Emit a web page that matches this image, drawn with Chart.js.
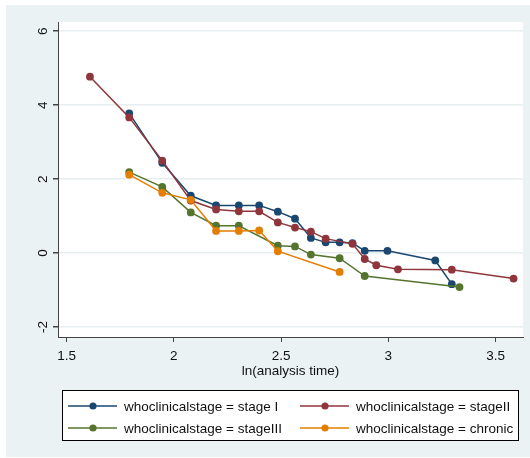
<!DOCTYPE html>
<html>
<head>
<meta charset="utf-8">
<script src="https://cdn.jsdelivr.net/npm/chart.js@4/dist/chart.umd.min.js"></script>
<style>
  html, body { margin: 0; padding: 0; background: #fff; }
  #wrap { width: 530px; height: 458px; }
</style>
</head>
<body>
<div id="wrap"><canvas id="chart" width="530" height="458"></canvas></div>
<script>
// ln(analysis time) and values, one pair of arrays per stage
const stage1X = [1.792, 1.946, 2.079, 2.197, 2.303, 2.398, 2.485, 2.565, 2.639, 2.708, 2.773, 2.833, 2.890, 2.996, 3.219, 3.296];
const stage1Y = [3.78, 2.44, 1.55, 1.29, 1.29, 1.29, 1.12, 0.93, 0.41, 0.29, 0.29, 0.27, 0.06, 0.06, -0.20, -0.84];

const stage2X = [1.609, 1.792, 1.946, 2.079, 2.197, 2.303, 2.398, 2.485, 2.565, 2.639, 2.708, 2.833, 2.890, 2.944, 3.045, 3.296, 3.584];
const stage2Y = [4.77, 3.67, 2.50, 1.42, 1.18, 1.13, 1.13, 0.83, 0.69, 0.58, 0.39, 0.25, -0.16, -0.33, -0.44, -0.45, -0.69];

const stage3X = [1.792, 1.946, 2.079, 2.197, 2.303, 2.485, 2.565, 2.639, 2.773, 2.890, 3.332];
const stage3Y = [2.19, 1.79, 1.10, 0.74, 0.74, 0.20, 0.18, -0.04, -0.14, -0.62, -0.92];

const chronicX = [1.792, 1.946, 2.079, 2.197, 2.303, 2.398, 2.485, 2.773];
const chronicY = [2.12, 1.63, 1.44, 0.60, 0.60, 0.61, 0.05, -0.51];

const seriesLabels = [
  'whoclinicalstage = stage I',
  'whoclinicalstage = stageII',
  'whoclinicalstage = stageIII',
  'whoclinicalstage = chronic'
];
const seriesColors = ['#1a476f', '#90353b', '#55752f', '#e37e00'];

const xTicks = [1.5, 2, 2.5, 3, 3.5];
const yTicks = [-2, 0, 2, 4, 6];

function toPoints(xs, ys) {
  return xs.map((x, i) => ({ x, y: ys[i] }));
}

const seriesData = [
  toPoints(stage1X, stage1Y),
  toPoints(stage2X, stage2Y),
  toPoints(stage3X, stage3Y),
  toPoints(chronicX, chronicY)
];

Chart.defaults.font.family = "'Liberation Sans', Arial, sans-serif";
Chart.defaults.font.size = 13.5;
Chart.defaults.color = '#111';

// Stata-like graph region: bluish grey frame, white plot region
const backgroundPlugin = {
  id: 'stataBackground',
  beforeDraw(chart) {
    const { ctx, chartArea: ca, width, height } = chart;
    ctx.save();
    ctx.fillStyle = '#ffffff';
    ctx.fillRect(0, 0, width, height);
    ctx.fillStyle = '#eaf2f3';
    ctx.fillRect(6, 5, width - 6, height - 6);
    ctx.fillStyle = '#ffffff';
    ctx.fillRect(ca.left, ca.top, ca.right - ca.left, ca.bottom - ca.top);
    ctx.restore();
  }
};

// Boxed two-column legend with line + marker keys
const legendPlugin = {
  id: 'boxLegend',
  afterDraw(chart) {
    const { ctx, chartArea: ca } = chart;
    const boxLeft = ca.left + 4;
    const boxRight = ca.right - 5;
    const boxTop = 390;
    const boxH = 50;
    ctx.save();
    ctx.fillStyle = '#ffffff';
    ctx.fillRect(boxLeft, boxTop, boxRight - boxLeft, boxH);
    ctx.strokeStyle = '#000';
    ctx.lineWidth = 1;
    ctx.strokeRect(boxLeft + 0.5, boxTop + 0.5, boxRight - boxLeft, boxH);
    const colX = [boxLeft + 6, boxLeft + 238];
    const rowY = [boxTop + 16, boxTop + 38];
    ctx.font = "13.5px 'Liberation Sans', Arial, sans-serif";
    ctx.textBaseline = 'middle';
    ctx.textAlign = 'left';
    chart.data.datasets.forEach((ds, i) => {
      const x = colX[i % 2];
      const y = rowY[Math.floor(i / 2)];
      ctx.strokeStyle = ds.borderColor;
      ctx.lineWidth = 1.5;
      ctx.beginPath();
      ctx.moveTo(x, y);
      ctx.lineTo(x + 49, y);
      ctx.stroke();
      ctx.fillStyle = ds.borderColor;
      ctx.beginPath();
      ctx.arc(x + 25, y, 3.6, 0, Math.PI * 2);
      ctx.fill();
      ctx.fillStyle = '#111';
      ctx.fillText(ds.label, x + 56, y + 1);
    });
    ctx.restore();
  }
};

const ctx = document.getElementById('chart').getContext('2d');

new Chart(ctx, {
  type: 'line',
  data: {
    datasets: seriesData.map((pts, i) => ({
      label: seriesLabels[i],
      data: pts,
      borderColor: seriesColors[i],
      backgroundColor: seriesColors[i],
      borderWidth: 1.5,
      pointRadius: 3.9,
      pointBorderWidth: 0,
      pointBackgroundColor: seriesColors[i],
      tension: 0,
      fill: false,
      order: 4 - i
    }))
  },
  options: {
    responsive: false,
    animation: false,
    events: [],
    layout: { padding: { left: 0, top: 22, right: 7, bottom: 79 } },
    plugins: {
      legend: { display: false },
      tooltip: { enabled: false }
    },
    scales: {
      x: {
        type: 'linear',
        min: 1.46,
        max: 3.628,
        afterBuildTicks(scale) {
          scale.ticks = xTicks.map(v => ({ value: v }));
        },
        afterFit(scale) { scale.height = 42; },
        border: { display: true, color: '#444', width: 1 },
        grid: {
          drawOnChartArea: false,
          drawTicks: true,
          tickLength: 5,
          tickColor: '#444'
        },
        ticks: {
          padding: 6,
          color: '#111',
          callback: v => String(v)
        },
        title: {
          display: true,
          text: 'ln(analysis time)',
          color: '#111',
          padding: { top: 0, bottom: 0 }
        }
      },
      y: {
        type: 'linear',
        min: -2.27,
        max: 6.25,
        afterBuildTicks(scale) {
          scale.ticks = yTicks.map(v => ({ value: v }));
        },
        afterFit(scale) { scale.width = 58; },
        border: { display: true, color: '#444', width: 1 },
        grid: {
          drawOnChartArea: true,
          color: '#e6eef0',
          lineWidth: 1.5,
          drawTicks: true,
          tickLength: 5,
          tickColor: '#444'
        },
        ticks: {
          padding: 4,
          color: '#111',
          minRotation: 90,
          maxRotation: 90,
          crossAlign: 'center',
          callback: v => String(v)
        }
      }
    }
  },
  plugins: [backgroundPlugin, legendPlugin]
});
</script>
</body>
</html>
